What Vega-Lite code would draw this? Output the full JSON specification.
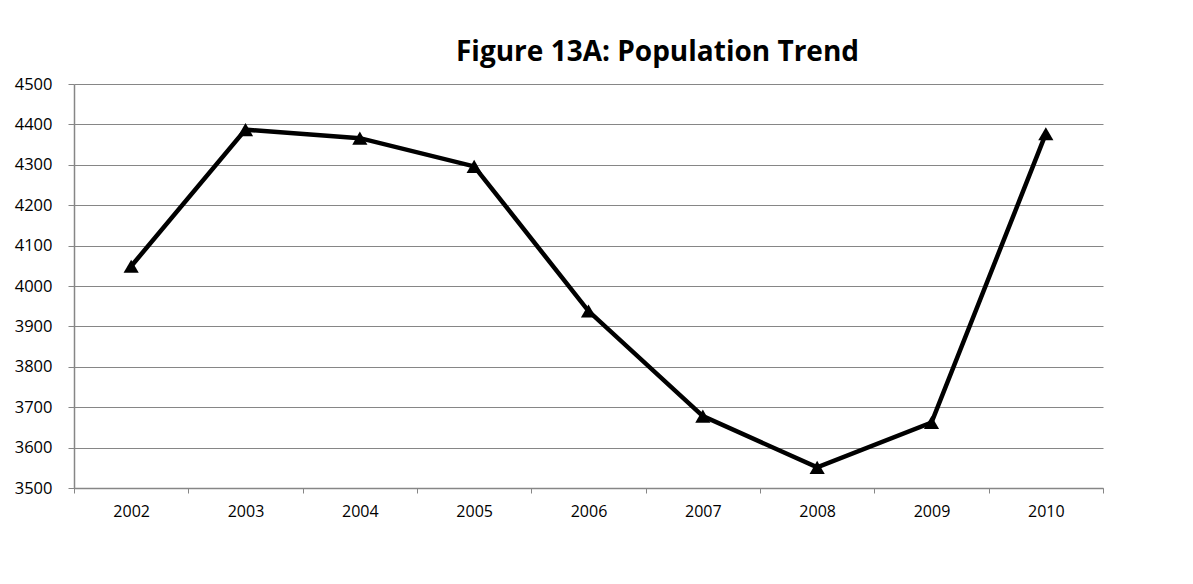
{
  "$schema": "https://vega.github.io/schema/vega-lite/v6.json",
  "autosize": "none",
  "width": 1029,
  "height": 404,
  "padding": {"left": 74, "top": 84, "right": 90, "bottom": 96},
  "background": "white",
  "title": {
    "text": "Figure 13A: Population Trend",
    "font": "Open Sans",
    "fontSize": 28,
    "fontWeight": "bold",
    "color": "black",
    "anchor": "middle",
    "dx": 69,
    "offset": 9
  },
  "data": {
    "values": [
      {"year": "2002", "population": 4049},
      {"year": "2003", "population": 4387},
      {"year": "2004", "population": 4366},
      {"year": "2005", "population": 4296},
      {"year": "2006", "population": 3938},
      {"year": "2007", "population": 3678},
      {"year": "2008", "population": 3551},
      {"year": "2009", "population": 3662},
      {"year": "2010", "population": 4377}
    ]
  },
  "encoding": {
    "x": {
      "field": "year",
      "type": "ordinal",
      "title": null,
      "scale": {"type": "band", "paddingInner": 0, "paddingOuter": 0},
      "axis": {
        "labelAngle": 0,
        "labelFont": "Open Sans",
        "labelFontSize": 16,
        "labelColor": "black",
        "labelPadding": 10,
        "tickBand": "extent",
        "tickSize": 5,
        "tickColor": "#868686",
        "domainColor": "#868686",
        "domainWidth": 1.5,
        "grid": false
      }
    },
    "y": {
      "field": "population",
      "type": "quantitative",
      "title": null,
      "scale": {"domain": [3500, 4500], "nice": false, "zero": false},
      "axis": {
        "values": [3500, 3600, 3700, 3800, 3900, 4000, 4100, 4200, 4300, 4400, 4500],
        "format": "d",
        "labelFont": "Open Sans",
        "labelFontSize": 16.5,
        "labelColor": "black",
        "labelPadding": 16,
        "tickSize": 6,
        "tickColor": "#868686",
        "domainColor": "#868686",
        "domainWidth": 1.5,
        "grid": true,
        "gridColor": "#868686",
        "gridWidth": 1
      }
    }
  },
  "layer": [
    {"mark": {"type": "line", "color": "black", "strokeWidth": 4.5}},
    {"mark": {"type": "point", "shape": "triangle-up", "filled": true, "color": "black", "opacity": 1, "size": 230}}
  ],
  "config": {"view": {"stroke": null}}
}
